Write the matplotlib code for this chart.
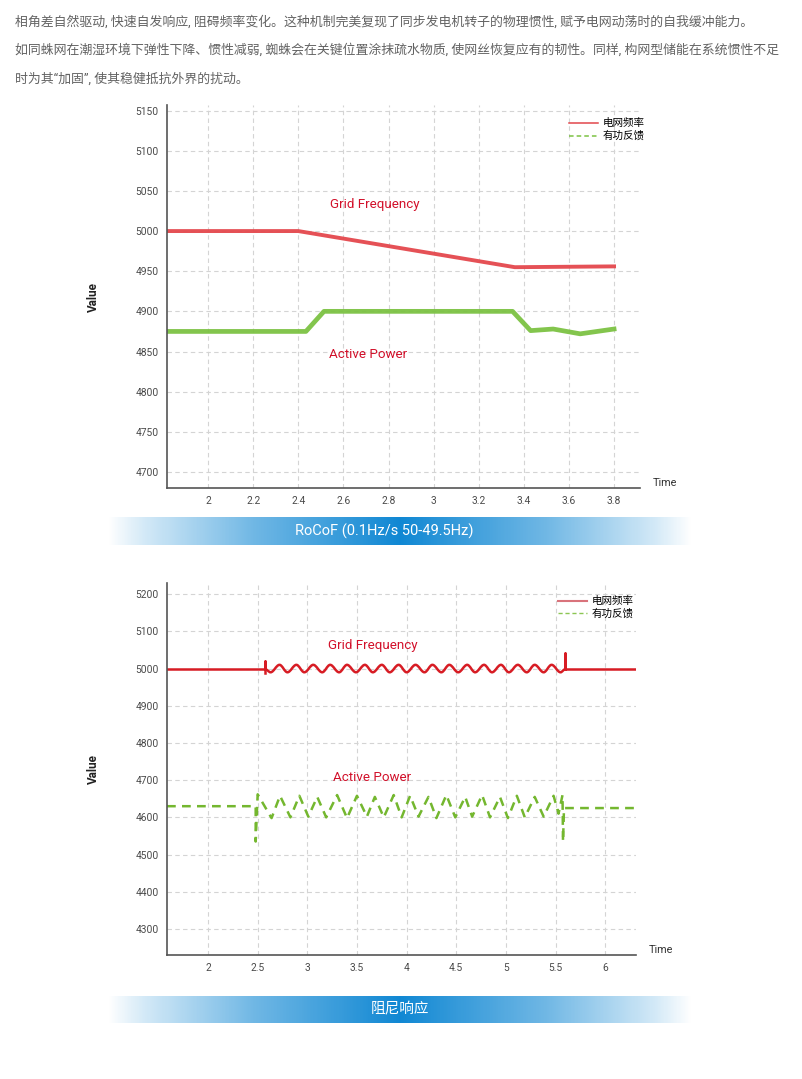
import numpy as np
import matplotlib
matplotlib.use("Agg")
import matplotlib.pyplot as plt
from matplotlib.path import Path
from matplotlib.patches import PathPatch

plt.rcParams['font.family'] = ['Roboto', 'Noto Sans CJK SC', 'DejaVu Sans']

# ---- text ----
para_lines = [
    "相角差自然驱动, 快速自发响应, 阻碍频率变化。这种机制完美复现了同步发电机转子的物理惯性, 赋予电网动荡时的自我缓冲能力。",
    "如同蛛网在潮湿环境下弹性下降、惯性减弱, 蜘蛛会在关键位置涂抹疏水物质, 使网丝恢复应有的韧性。同样, 构网型储能在系统惯性不足",
    "时为其“加固”, 使其稳健抵抗外界的扰动。",
]
legend_labels = ["电网频率", "有功反馈"]
banner_titles = ["RoCoF (0.1Hz/s 50-49.5Hz)", "阻尼响应"]

# ---- chart 1: RoCoF ----
rocof_xticks = [2, 2.2, 2.4, 2.6, 2.8, 3, 3.2, 3.4, 3.6, 3.8]
rocof_xticklabels = ["2", "2.2", "2.4", "2.6", "2.8", "3", "3.2", "3.4", "3.6", "3.8"]
rocof_yticks = [4700, 4750, 4800, 4850, 4900, 4950, 5000, 5050, 5100, 5150]
rocof_freq_t = [1.82, 2.40, 3.36, 3.80]
rocof_freq_v = [5000, 5000, 4955, 4956]
rocof_pow_t = [1.82, 2.434, 2.514, 3.35, 3.43, 3.53, 3.65, 3.80]
rocof_pow_v = [4875, 4875, 4900, 4900, 4876, 4878, 4872, 4878]

# ---- chart 2: damping ----
damp_xticks = [2, 2.5, 3, 3.5, 4, 4.5, 5, 5.5, 6]
damp_xticklabels = ["2", "2.5", "3", "3.5", "4", "4.5", "5", "5.5", "6"]
damp_yticks = [4300, 4400, 4500, 4600, 4700, 4800, 4900, 5000, 5100, 5200]
# straight parts of grid frequency (flat + spikes)
damp_freq_left_t = [1.587, 2.578, 2.578, 2.578]
damp_freq_left_v = [5000, 5000, 5020, 4989]
damp_freq_right_t = [5.596, 5.596, 5.596, 6.31]
damp_freq_right_v = [4998, 5043, 5000, 5000]
# oscillation extremes of grid frequency
damp_wig_t = [2.578, 2.63, 2.72, 2.80, 2.89, 2.97, 3.06, 3.15, 3.23, 3.32, 3.40,
              3.49, 3.58, 3.66, 3.75, 3.83, 3.92, 4.00, 4.09, 4.18, 4.26, 4.35,
              4.43, 4.52, 4.61, 4.69, 4.78, 4.86, 4.95, 5.03, 5.12, 5.21, 5.29,
              5.38, 5.46, 5.55, 5.596]
damp_wig_v = [4998, 4990, 5010, 4990, 5010, 4990, 5010, 4990, 5010, 4990, 5010,
              4990, 5010, 4990, 5010, 4990, 5010, 4990, 5010, 4990, 5010, 4990,
              5010, 4990, 5010, 4990, 5010, 4990, 5010, 4990, 5010, 4990, 5010,
              4990, 5010, 4990, 4998]
damp_pow_t = [1.587, 2.48, 2.48, 2.50, 2.64, 2.725, 2.83, 2.92, 3.01, 3.10, 3.19,
              3.30, 3.40, 3.50, 3.60, 3.68, 3.77, 3.87, 3.95, 4.035, 4.12, 4.22,
              4.30, 4.40, 4.49, 4.59, 4.66, 4.76, 4.84, 4.94, 5.02, 5.11, 5.19,
              5.29, 5.38, 5.48, 5.53, 5.57, 5.575, 5.585, 6.31]
damp_pow_v = [4630, 4630, 4535, 4662, 4598, 4658, 4600, 4658, 4602, 4655, 4600,
              4660, 4598, 4658, 4602, 4655, 4600, 4660, 4600, 4658, 4602, 4655,
              4598, 4660, 4600, 4655, 4602, 4660, 4600, 4655, 4598, 4658, 4600,
              4655, 4602, 4658, 4610, 4660, 4535, 4625, 4625]

W, H = 803, 1079
fig = plt.figure(figsize=(W / 100, H / 100), dpi=100)

def px_box(left, top, right, bottom):
    return [left / W, 1 - bottom / H, (right - left) / W, (bottom - top) / H]

for i, line in enumerate(para_lines):
    fig.text(15 / W, 1 - [22, 50, 79][i] / H, line, fontsize=9.3, color='#636363',
             va='center', ha='left')

TXT_RED = '#d2102a'

def style_axes(ax, xticks, xlabels, yticks):
    ax.set_xticks(xticks)
    ax.set_xticklabels(xlabels)
    ax.set_yticks(yticks)
    ax.grid(True, color='#d4d4d4', linestyle=(0, (4, 3)), linewidth=0.8)
    ax.set_axisbelow(True)
    for s in ['top', 'right']:
        ax.spines[s].set_visible(False)
    for s in ['left', 'bottom']:
        ax.spines[s].set_color('#555555')
        ax.spines[s].set_linewidth(1.2)
    ax.tick_params(length=0, labelsize=7.4, colors='#4a4a4a', pad=6)
    ax.set_ylabel("Value", fontsize=8.5, fontweight='bold', color='#222222')
    ax.yaxis.set_label_coords(-0.142, 0.5)
    ax.text(1.053, 0.013, "Time", transform=ax.transAxes, fontsize=7.8,
            color='#333333', ha='center', va='center')

# chart 1
ax1 = fig.add_axes(px_box(167, 105, 640, 488))
ax1.plot(rocof_freq_t, rocof_freq_v, color='#e4484d', linewidth=2.8, alpha=0.95)
ax1.plot(rocof_pow_t, rocof_pow_v, color='#7cc243', linewidth=3.4, alpha=0.95)
ax1.set_xlim(1.818, 3.915)
ax1.set_ylim(4680, 5157)
style_axes(ax1, rocof_xticks, rocof_xticklabels, rocof_yticks)
ax1.text(2.74, 5033, "Grid Frequency", color=TXT_RED, fontsize=9.6, ha='center', va='center')
ax1.text(2.71, 4846, "Active Power", color=TXT_RED, fontsize=9.6, ha='center', va='center')
h1 = [plt.Line2D([], [], color='#e2474c', linewidth=1.1),
      plt.Line2D([], [], color='#7cc243', linewidth=1.1, linestyle=(0, (3, 2)))]
ax1.legend(h1, legend_labels, loc='upper right', bbox_to_anchor=(1.03, 0.99), frameon=False,
           fontsize=7.6, handlelength=2.7, handletextpad=0.45, labelspacing=0.25)

# chart 2
ax2 = fig.add_axes(px_box(167, 583, 636, 955))
ax2.plot(damp_freq_left_t, damp_freq_left_v, color='#d71c24', linewidth=1.8)
ax2.plot(damp_freq_right_t, damp_freq_right_v, color='#d71c24', linewidth=1.8)
verts = [(damp_wig_t[0], damp_wig_v[0])]
codes = [Path.MOVETO]
for k in range(1, len(damp_wig_t)):
    x0, y0 = damp_wig_t[k - 1], damp_wig_v[k - 1]
    x1, y1 = damp_wig_t[k], damp_wig_v[k]
    dx = x1 - x0
    verts += [(x0 + 0.36 * dx, y0), (x1 - 0.36 * dx, y1), (x1, y1)]
    codes += [Path.CURVE4] * 3
ax2.add_patch(PathPatch(Path(verts, codes), fill=False, edgecolor='#d71c24', linewidth=1.8))
ax2.plot(damp_pow_t, damp_pow_v, color='#74b72f', linewidth=1.8, linestyle=(0, (3.5, 2.5)))
ax2.set_xlim(1.587, 6.31)
ax2.set_ylim(4230, 5230)
style_axes(ax2, damp_xticks, damp_xticklabels, damp_yticks)
ax2.text(3.66, 5063, "Grid Frequency", color=TXT_RED, fontsize=9.6, ha='center', va='center')
ax2.text(3.65, 4708, "Active Power", color=TXT_RED, fontsize=9.6, ha='center', va='center')
h2 = [plt.Line2D([], [], color='#d9737b', linewidth=1.5),
      plt.Line2D([], [], color='#8cc653', linewidth=1.0, linestyle=(0, (3, 2)))]
ax2.legend(h2, legend_labels, loc='upper right', bbox_to_anchor=(1.015, 0.99), frameon=False,
           fontsize=7.6, handlelength=2.7, handletextpad=0.45, labelspacing=0.25)

# gradient banners
prof_pos = [0, 0.06, 0.25, 0.5, 0.75, 0.94, 1]
prof_alpha = [0.0, 0.18, 0.6, 1.0, 0.6, 0.18, 0.0]
xs = np.linspace(0, 1, 400)
grad = np.zeros((1, 400, 4))
grad[..., 0], grad[..., 1], grad[..., 2] = 0.06, 0.53, 0.83
grad[..., 3] = np.interp(xs, prof_pos, prof_alpha)
for (top, bot), title, tx in zip([(517, 545), (996, 1023)], banner_titles, [384, 400]):
    bax = fig.add_axes(px_box(108, top, 692, bot))
    bax.imshow(grad, aspect='auto', extent=[0, 1, 0, 1])
    bax.set_xlim(0, 1)
    bax.set_ylim(0, 1)
    bax.axis('off')
    bax.text((tx - 108) / 584, 0.5, title, color='white', fontsize=10.5, ha='center', va='center')

fig.savefig("out.png", dpi=100)
